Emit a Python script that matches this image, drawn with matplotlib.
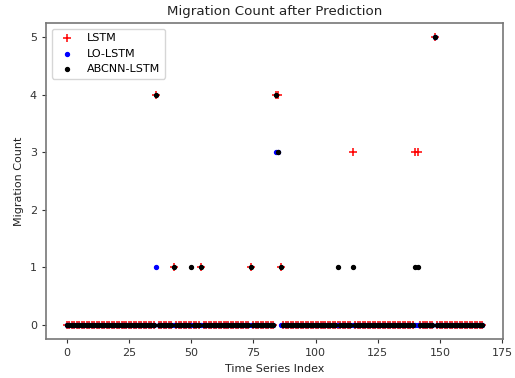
import matplotlib
matplotlib.use("Agg")
import matplotlib.pyplot as plt
import numpy as np

time_index = list(range(168))

lstm = [
    0,0,0,0,0,0,0,0,0,0,0,0,0,0,0,0,0,0,0,0,0,0,0,0,
    0,0,0,0,0,0,0,0,0,0,0,0,4,0,0,0,0,0,0,1,0,0,0,0,
    0,0,0,0,0,0,1,0,0,0,0,0,0,0,0,0,0,0,0,0,0,0,0,0,
    0,0,1,0,0,0,0,0,0,0,0,0,4,4,1,0,0,0,0,0,0,0,0,0,
    0,0,0,0,0,0,0,0,0,0,0,0,0,0,0,0,0,0,0,3,0,0,0,0,
    0,0,0,0,0,0,0,0,0,0,0,0,0,0,0,0,0,0,0,0,3,3,0,0,
    0,0,0,0,5,0,0,0,0,0,0,0,0,0,0,0,0,0,0,0,0,0,0,0,
]
lo_lstm = [
    0,0,0,0,0,0,0,0,0,0,0,0,0,0,0,0,0,0,0,0,0,0,0,0,
    0,0,0,0,0,0,0,0,0,0,0,0,1,0,0,0,0,0,0,0,0,0,0,0,
    0,0,0,0,0,0,0,0,0,0,0,0,0,0,0,0,0,0,0,0,0,0,0,0,
    0,0,0,0,0,0,0,0,0,0,0,0,3,3,0,0,0,0,0,0,0,0,0,0,
    0,0,0,0,0,0,0,0,0,0,0,0,0,0,0,0,0,0,0,0,0,0,0,0,
    0,0,0,0,0,0,0,0,0,0,0,0,0,0,0,0,0,0,0,0,0,0,0,0,
    0,0,0,0,5,0,0,0,0,0,0,0,0,0,0,0,0,0,0,0,0,0,0,0,
]
abcnn_lstm = [
    0,0,0,0,0,0,0,0,0,0,0,0,0,0,0,0,0,0,0,0,0,0,0,0,
    0,0,0,0,0,0,0,0,0,0,0,0,4,0,0,0,0,0,0,1,0,0,0,0,
    0,0,1,0,0,0,1,0,0,0,0,0,0,0,0,0,0,0,0,0,0,0,0,0,
    0,0,1,0,0,0,0,0,0,0,0,0,4,3,1,0,0,0,0,0,0,0,0,0,
    0,0,0,0,0,0,0,0,0,0,0,0,0,1,0,0,0,0,0,1,0,0,0,0,
    0,0,0,0,0,0,0,0,0,0,0,0,0,0,0,0,0,0,0,0,1,1,0,0,
    0,0,0,0,5,0,0,0,0,0,0,0,0,0,0,0,0,0,0,0,0,0,0,0,
]

fig = plt.figure(figsize=(5.15, 3.78), dpi=100)
ax = fig.add_axes([46/515, 1-339/378, (503-46)/515, (339-23)/378])

ax.scatter(time_index, lstm, marker='+', color='red', s=30, linewidths=1.1, label='LSTM', zorder=2)
ax.scatter(time_index, lo_lstm, marker='.', color='blue', s=32, label='LO-LSTM', zorder=3)
ax.scatter(time_index, abcnn_lstm, marker='.', color='black', s=32, label='ABCNN-LSTM', zorder=4)

ax.set_title('Migration Count after Prediction', fontsize=9.6, color='#222222')
ax.set_xlabel('Time Series Index', fontsize=8, color='#222222')
ax.set_ylabel('Migration Count', fontsize=8, color='#222222')
ax.set_xticks([0, 25, 50, 75, 100, 125, 150, 175])
ax.set_yticks([0, 1, 2, 3, 4, 5])
ax.tick_params(labelsize=8, colors='#333333', length=3)
for s in ax.spines.values():
    s.set_color('#777777')
    s.set_linewidth(1.2)
ax.legend(loc='upper left', fontsize=8, frameon=True)

fig.savefig('out.png', dpi=100)
